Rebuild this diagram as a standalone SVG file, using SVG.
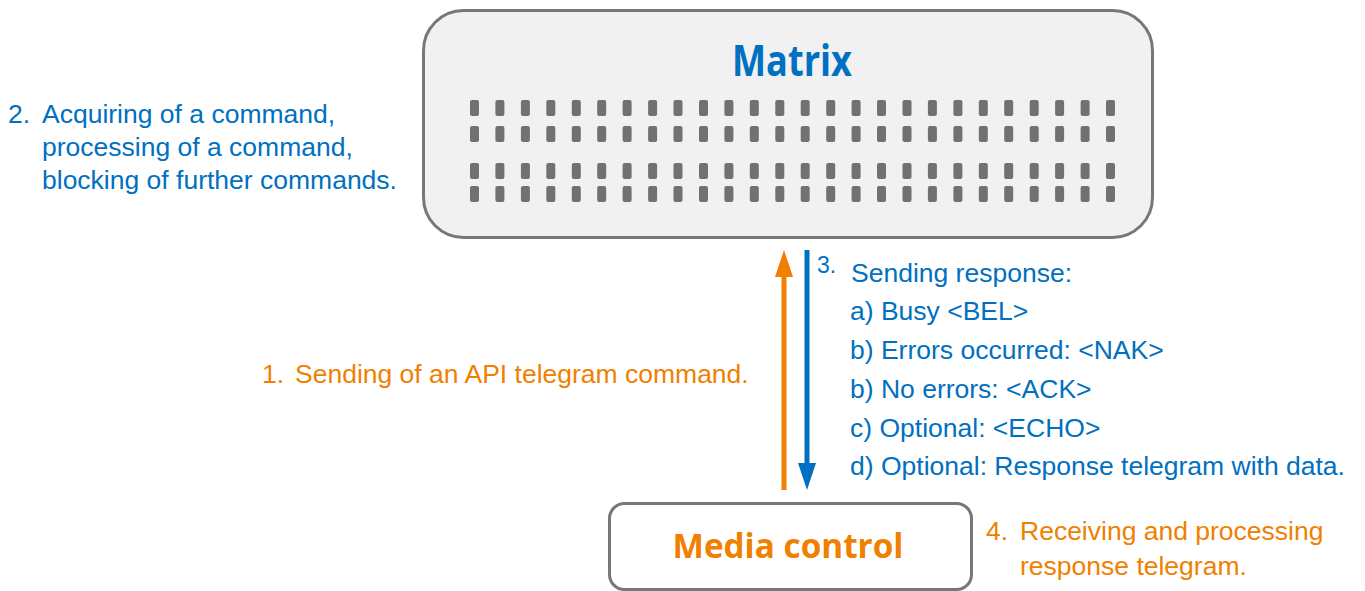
<svg xmlns="http://www.w3.org/2000/svg" xmlns:xlink="http://www.w3.org/1999/xlink" width="1365" height="591" viewBox="0 0 1365 591">
<style>
.t{font-family:"Liberation Sans",Arial,sans-serif;font-size:26.5px}
.blue{fill:#0070C0}
.orange{fill:#F08000}
.dot{fill:#717171}
.box{stroke:#777;stroke-width:3}
.title{font-family:"Open Sans","DejaVu Sans",sans-serif;font-weight:700}
</style>
<defs>
<rect id="d" class="dot" width="9" height="16" rx="2"/>
<g id="row">
<use xlink:href="#d" x="470"/><use xlink:href="#d" x="495.4"/><use xlink:href="#d" x="520.9"/><use xlink:href="#d" x="546.3"/><use xlink:href="#d" x="571.8"/><use xlink:href="#d" x="597.2"/><use xlink:href="#d" x="622.6"/><use xlink:href="#d" x="648.1"/><use xlink:href="#d" x="673.5"/><use xlink:href="#d" x="699"/><use xlink:href="#d" x="724.4"/><use xlink:href="#d" x="749.8"/><use xlink:href="#d" x="775.3"/><use xlink:href="#d" x="800.7"/><use xlink:href="#d" x="826.2"/><use xlink:href="#d" x="851.6"/><use xlink:href="#d" x="877"/><use xlink:href="#d" x="902.5"/><use xlink:href="#d" x="927.9"/><use xlink:href="#d" x="953.4"/><use xlink:href="#d" x="978.8"/><use xlink:href="#d" x="1004.2"/><use xlink:href="#d" x="1029.7"/><use xlink:href="#d" x="1055.1"/><use xlink:href="#d" x="1080.6"/><use xlink:href="#d" x="1106"/>
</g>
<marker id="ao" markerWidth="18" markerHeight="27" refX="9" refY="0" orient="auto-start-reverse" markerUnits="userSpaceOnUse" viewBox="0 0 18 27">
<path d="M0,27 L9,0 L18,27 Z" fill="#F08000"/>
</marker>
</defs>
<rect width="1365" height="591" fill="#fff"/>
<g id="matrix">
<rect class="box" x="423.5" y="10.5" width="729" height="227" rx="40" fill="#f1f1f1"/>
<text class="title blue" x="792" y="76" font-size="43" text-anchor="middle" textLength="120" lengthAdjust="spacingAndGlyphs">Matrix</text>
<use xlink:href="#row" y="100"/>
<use xlink:href="#row" y="126"/>
<use xlink:href="#row" y="163"/>
<use xlink:href="#row" y="186"/>
</g>
<g id="media-control">
<rect class="box" x="609.5" y="503.5" width="362" height="86" rx="15" fill="#fff"/>
<text class="title orange" x="788" y="558" font-size="34" text-anchor="middle" textLength="231" lengthAdjust="spacingAndGlyphs">Media control</text>
</g>
<g id="connectors">
<line x1="784" y1="490" x2="784" y2="272" stroke="#F08000" stroke-width="5"/>
<path d="M775,277 L784,250 L793,277 Z" fill="#F08000"/>
<line x1="807" y1="250" x2="807" y2="468" stroke="#0070C0" stroke-width="5"/>
<path d="M798,463 L807,490 L816,463 Z" fill="#0070C0"/>
</g>
<g id="label-2" class="t blue">
<text x="8" y="123">2.</text>
<text x="42" y="123">Acquiring of a command,</text>
<text x="42" y="156">processing of a command,</text>
<text x="42" y="188.5">blocking of further commands.</text>
</g>
<g id="label-1" class="t orange">
<text x="262" y="383">1.</text>
<text x="295" y="383">Sending of an API telegram command.</text>
</g>
<g id="label-3" class="t blue">
<text x="817" y="273" font-size="23">3.</text>
<text x="851" y="282">Sending response:</text>
<text x="850" y="320">a) Busy &lt;BEL&gt;</text>
<text x="850" y="359">b) Errors occurred: &lt;NAK&gt;</text>
<text x="850" y="398">b) No errors: &lt;ACK&gt;</text>
<text x="850" y="437">c) Optional: &lt;ECHO&gt;</text>
<text x="850" y="475">d) Optional: Response telegram with data.</text>
</g>
<g id="label-4" class="t orange">
<text x="986" y="540">4.</text>
<text x="1020" y="540">Receiving and processing</text>
<text x="1020" y="575">response telegram.</text>
</g>
</svg>
